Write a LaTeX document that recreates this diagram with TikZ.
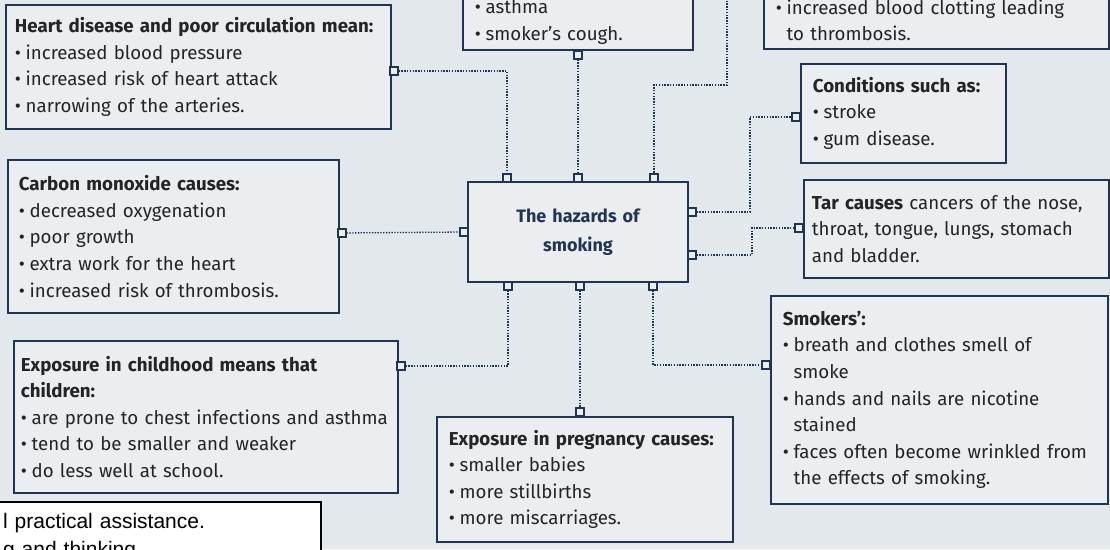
\documentclass[tikz,border=0pt]{standalone}
\usepackage{fontspec}
\setmainfont{Fira Sans}
\newfontfamily\notefont{Liberation Sans}
\definecolor{pagebg}{RGB}{226,232,236}
\definecolor{cardbg}{RGB}{234,238,240}
\definecolor{navy}{RGB}{33,52,82}
\definecolor{ink}{RGB}{36,36,40}
\newcommand{\bitem}{\textbullet\hspace{0.25em}}
\newcommand{\bcont}{\phantom{\textbullet}\hspace{0.25em}}

\tikzset{
  card/.style={draw=navy, line width=1.8pt, fill=cardbg, text=ink,
    anchor=north west, align=left, inner xsep=12pt, inner ysep=6pt,
    font=\fontsize{18.7}{26.6}\selectfont},
  port/.style={draw=navy, line width=1.3pt, fill=cardbg,
    minimum size=8pt, inner sep=0pt},
  link/.style={draw=navy, line width=1.3pt, dash pattern=on 1.4pt off 1.4pt}
}

\begin{document}
\begin{tikzpicture}[x=1pt, y=-1pt]

% Page
\useasboundingbox (0,0) rectangle (1110,549);
\fill[pagebg] (0,0) rectangle (1110,549);
\clip (0,0) rectangle (1110,549);

% Centre box
\node[card, anchor=center, text width=196pt, minimum height=100pt,
      align=center, text=navy, font=\bfseries\fontsize{18}{29}\selectfont]
      (hazard) at (578,232) {The hazards of\\smoking};

% Boxes cut by the top edge
\node[card, anchor=south west, text width=206pt] (lung) at (462,51)
      {\bitem asthma\\ \bitem smoker's cough.};
\node[card, anchor=south west, text width=321pt, inner ysep=8pt] (clot) at (763,50)
      {\bitem increased blood clotting leading\\ \bcont to thrombosis.};

% Left column
\node[card, text width=367pt, minimum height=124pt, inner xsep=9pt] (heart) at (5,4)
      {\textbf{Heart disease and poor circulation mean:}\\
       \bitem increased blood pressure\\
       \bitem increased risk of heart attack\\
       \bitem narrowing of the arteries.};
\node[card, text width=309pt, minimum height=153pt, inner xsep=11pt] (carbon) at (7,159)
      {\textbf{Carbon monoxide causes:}\\
       \bitem decreased oxygenation\\
       \bitem poor growth\\
       \bitem extra work for the heart\\
       \bitem increased risk of thrombosis.};
\node[card, text width=370pt, minimum height=152pt, inner xsep=7pt] (child) at (13,340)
      {\textbf{Exposure in childhood means that}\\
       \textbf{children:}\\
       \mbox{\bitem are prone to chest infections and asthma}\\
       \bitem tend to be smaller and weaker\\
       \bitem do less well at school.};

% Bottom box
\node[card, text width=272pt, minimum height=125pt] (preg) at (436,416)
      {\textbf{Exposure in pregnancy causes:}\\
       \bitem smaller babies\\
       \bitem more stillbirths\\
       \bitem more miscarriages.};

% Right column
\node[card, text width=181pt, minimum height=99pt] (cond) at (800,63)
      {\textbf{Conditions such as:}\\
       \bitem stroke\\
       \bitem gum disease.};
\node[card, text width=289pt, minimum height=98pt, inner xsep=8pt] (tar) at (803,179)
      {\textbf{Tar causes} cancers of the nose,\\
       throat, tongue, lungs, stomach\\
       and bladder.};
\node[card, text width=313pt, minimum height=208pt] (smokers) at (770,295)
      {\textbf{Smokers':}\\
       \bitem breath and clothes smell of\\
       \bcont smoke\\
       \bitem hands and nails are nicotine\\
       \bcont stained\\
       \bitem faces often become wrinkled from\\
       \bcont the effects of smoking.};

% Ports
\foreach \n/\x/\y in {hazT1/507/178, hazT2/578/178, hazT3/654/178,
                      hazB1/508/286, hazB2/580/286, hazB3/653/286,
                      hazL/464/232, hazR1/692/212, hazR2/692/255,
                      heartp/394/71, carbonp/342/233, childp/401/366,
                      pregp/580/412, smokersp/766/365, tarp/799/228,
                      condp/796/117, lungp/578/55}{
    \node[port] (\n) at (\x,\y) {};
}
\coordinate (offtop) at (727,-5);

% Dotted links
\draw[link] (heartp) -| (hazT1);
\draw[link] (lungp) -- (hazT2);
\draw[link] (offtop) -- ++(0,90) -| (hazT3);
\draw[link] (carbonp) -- (hazL);
\draw[link] (hazR1) -- ++(58,0) |- (condp);
\draw[link] (hazR2) -- ++(60,0) |- (tarp);
\draw[link] (hazB1) |- (childp);
\draw[link] (hazB2) -- (pregp);
\draw[link] (hazB3) |- (smokersp);

% Pasted note at the bottom left
\node[draw=black, line width=2pt, fill=white, anchor=north west,
      align=left, inner xsep=6pt, inner ysep=4pt, text width=312pt,
      minimum height=70pt, font=\notefont\fontsize{21}{28}\selectfont]
      (note) at (-4,501) {l practical assistance.\\g and thinking};

\end{tikzpicture}
\end{document}
